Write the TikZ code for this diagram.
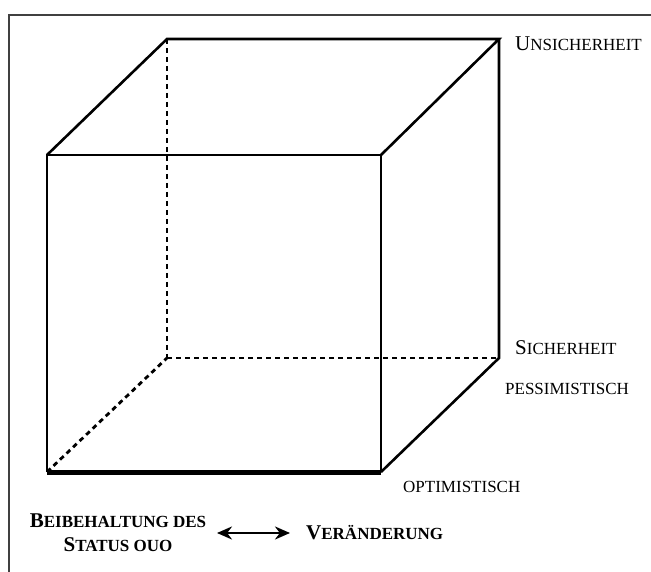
\documentclass[tikz,border=0pt]{standalone}
\usepackage{fontspec}
\setmainfont{Liberation Serif}
\usetikzlibrary{arrows.meta}
\newcommand{\scR}{\fontsize{17}{20}\selectfont}
\newcommand{\scB}{\fontsize{17}{20}\selectfont}
\tikzset{
  edge/.style={line width=2.6pt, line join=miter},
  hidden/.style={line width=2.8pt, dash pattern=on 5pt off 4pt},
  lbl/.style={anchor=base west, inner sep=0pt, font=\fontsize{21}{24}\selectfont},
  blbl/.style={inner sep=0pt, font=\fontsize{21}{24}\selectfont\bfseries, align=center},
  frame/.style={line width=1.6pt, draw=black!75}
}
\begin{document}
\begin{tikzpicture}[x=1pt,y=-1pt]
\useasboundingbox (0,0) rectangle (651,572);
% frame
\draw[frame] (9,572) -- (9,15) -- (651,15);
% cube corners
\coordinate (ftl) at (47,155);
\coordinate (ftr) at (381,155);
\coordinate (fbl) at (47,472);
\coordinate (fbr) at (381,472);
\coordinate (btl) at (167,39);
\coordinate (btr) at (499,39);
\coordinate (bbl) at (167,358);
\coordinate (bbr) at (499,358);
% hidden edges
\draw[hidden] (btl) -- (bbl);
\draw[hidden] (bbl) -- (bbr);
\draw[hidden] (fbl) -- (bbl);
% visible edges
\draw[edge] (fbl) -- (ftl) -- (ftr) -- (fbr);
\draw[edge] (ftl) -- (btl) -- (btr) -- (ftr);
\draw[edge] (btr) -- (bbr) -- (fbr);
\draw[line width=5pt] (fbl) -- (fbr);
% labels
\node[lbl] (unsich) at (515,51) {U{\scR NSICHERHEIT}};
\node[lbl] (sich) at (515,354) {S{\scR ICHERHEIT}};
\node[lbl] (pess) at (505,394) {{\scR PESSIMISTISCH}};
\node[lbl] (opt) at (403,492) {{\scR OPTIMISTISCH}};
\node[blbl] (status) at (118,533) {B{\scB EIBEHALTUNG DES}\\S{\scB TATUS OUO}};
\node[blbl, anchor=west] (veraend) at (306,533) {V{\scB ERÄNDERUNG}};
\coordinate (al) at (217,533);
\coordinate (ar) at (290,533);
\draw[line width=2.6pt, {Stealth[length=15pt,width=13pt]}-{Stealth[length=15pt,width=13pt]}] (al) -- (ar);
\end{tikzpicture}
\end{document}
